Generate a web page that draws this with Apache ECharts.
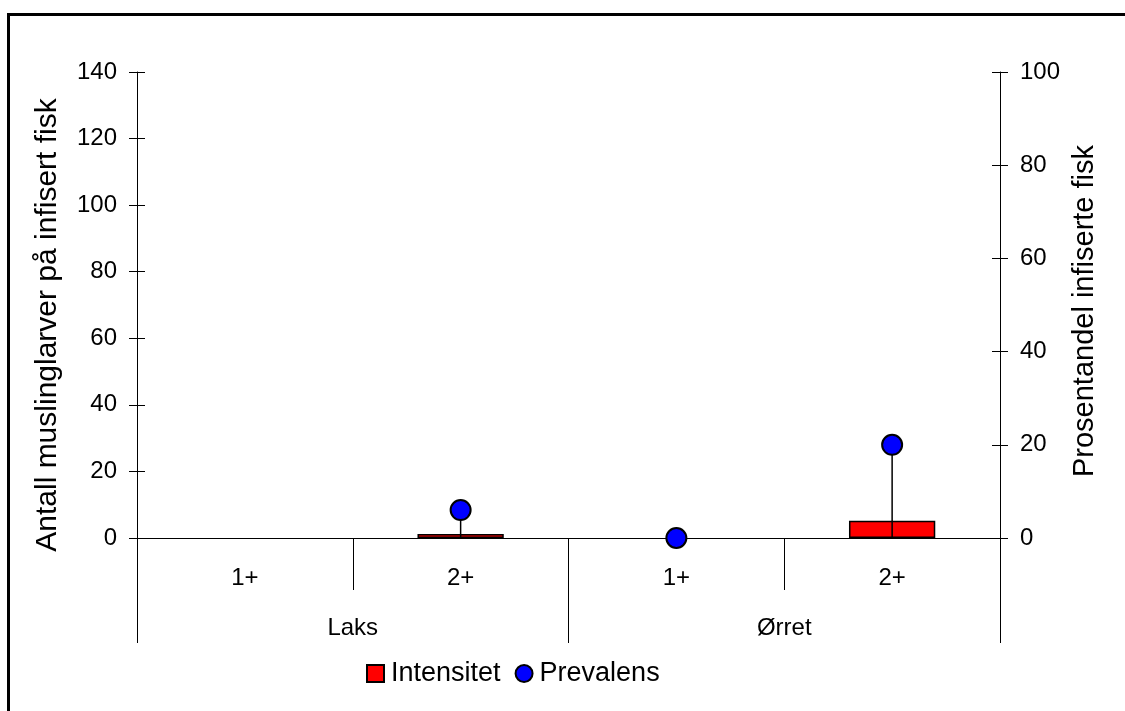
<!DOCTYPE html>
<html>
<head>
<meta charset="utf-8">
<script src="https://cdn.jsdelivr.net/npm/echarts@6/dist/echarts.min.js"></script>
<style>
html,body{margin:0;padding:0;background:#fff;}
#chart{width:1125px;height:711px;}
</style>
</head>
<body>
<div id="chart"></div>
<script>
// ---- data ----
const subCategories = ['1+', '2+', '1+', '2+'];
const groups = ['Laks', 'Ørret'];
const intensitet = [null, 1.2, null, 5.2];      // left axis
const errLow = [null, 0, null, 0];              // error bar lower end (left axis)
const errHigh = [null, 8.4, null, 28];          // error bar upper end (left axis)
const prevalens = [null, 6, 0, 20];             // right axis (%)
const leftTicks = [0, 20, 40, 60, 80, 100, 120, 140];
const rightTicks = [0, 20, 40, 60, 80, 100];
const leftTitle = 'Antall muslinglarver på infisert fisk';
const rightTitle = 'Prosentandel infiserte fisk';

const FONT = 'Liberation Sans, Arial, sans-serif';
const chart = echarts.init(document.getElementById('chart'));

const baseY = {
  type: 'value',
  splitLine: { show: false },
  axisLine: { show: true, lineStyle: { color: '#000', width: 1 } },
  axisTick: { show: true, length: 8, lineStyle: { color: '#000', width: 1 } },
  axisLabel: { color: '#000', fontFamily: FONT, fontSize: 24, margin: 20 }
};

const option = {
  backgroundColor: '#fff',
  animation: false,
  grid: { left: 137, right: 125, top: 72, bottom: 173, containLabel: false },
  legend: {
    left: 366, top: 660, padding: 0,
    itemWidth: 17, itemHeight: 17, itemGap: 14,
    textStyle: { color: '#000', fontFamily: FONT, fontSize: 27, padding: [0, 0, 0, 2] },
    data: [
      { name: 'Intensitet', icon: 'rect' },
      { name: 'Prevalens', icon: 'circle' }
    ]
  },
  xAxis: [
    {
      type: 'category', data: subCategories, position: 'bottom',
      axisLine: { show: true, lineStyle: { color: '#000', width: 1 } },
      axisTick: { show: true, length: 52, lineStyle: { color: '#000', width: 1 } },
      axisLabel: { color: '#000', fontFamily: FONT, fontSize: 24, margin: 28 },
      splitLine: { show: false }
    },
    {
      type: 'category', data: groups, position: 'bottom', offset: 0,
      axisLine: { show: false },
      axisTick: { show: true, length: 105, lineStyle: { color: '#000', width: 1 } },
      axisLabel: { color: '#000', fontFamily: FONT, fontSize: 24, margin: 78 },
      splitLine: { show: false }
    }
  ],
  yAxis: [
    Object.assign({}, baseY, { position: 'left', min: leftTicks[0], max: leftTicks[leftTicks.length - 1], interval: leftTicks[1] - leftTicks[0] }),
    Object.assign({}, baseY, { position: 'right', min: rightTicks[0], max: rightTicks[rightTicks.length - 1], interval: rightTicks[1] - rightTicks[0] }),
    Object.assign({}, baseY, { position: 'left', min: leftTicks[0], max: leftTicks[leftTicks.length - 1], interval: leftTicks[1] - leftTicks[0],
      axisLine: { show: false }, axisLabel: { show: false },
      axisTick: { show: true, inside: true, length: 8, lineStyle: { color: '#000', width: 1 } } }),
    Object.assign({}, baseY, { position: 'right', min: rightTicks[0], max: rightTicks[rightTicks.length - 1], interval: rightTicks[1] - rightTicks[0],
      axisLine: { show: false }, axisLabel: { show: false },
      axisTick: { show: true, inside: true, length: 8, lineStyle: { color: '#000', width: 1 } } })
  ],
  series: [
    {
      name: 'Intensitet', type: 'bar', xAxisIndex: 0, yAxisIndex: 0,
      data: intensitet, barWidth: '40%',
      itemStyle: { color: '#ff0000', borderColor: '#000', borderWidth: 1.5 },
      z: 2
    },
    {
      name: 'err', type: 'custom', xAxisIndex: 0, yAxisIndex: 0,
      data: subCategories.map((c, i) => [i, errLow[i], errHigh[i]]),
      renderItem: function (params, api) {
        const lo = api.value(1), hi = api.value(2);
        if (lo == null || hi == null || isNaN(lo) || isNaN(hi)) return;
        const p1 = api.coord([api.value(0), lo]);
        const p2 = api.coord([api.value(0), hi]);
        return {
          type: 'line',
          shape: { x1: p1[0], y1: p1[1], x2: p2[0], y2: p2[1] },
          style: { stroke: '#000', lineWidth: 1.5 }
        };
      },
      z: 3, silent: true
    },
    {
      name: 'Prevalens', type: 'scatter', xAxisIndex: 0, yAxisIndex: 1,
      data: prevalens, symbol: 'circle', symbolSize: 20,
      itemStyle: { color: '#0000ff', borderColor: '#000', borderWidth: 2, opacity: 1 },
      z: 4
    }
  ],
  graphic: [
    {
      type: 'rect', left: 6, top: 12, z: -1,
      shape: { width: 1200, height: 800 },
      style: { fill: 'none', stroke: '#000', lineWidth: 3 }
    },
    {
      type: 'text', x: 48, y: 325, rotation: Math.PI / 2,
      style: { text: leftTitle, fill: '#000', font: '30px ' + FONT, textAlign: 'center', textVerticalAlign: 'middle' }
    },
    {
      type: 'text', x: 1085, y: 311, rotation: Math.PI / 2,
      style: { text: rightTitle, fill: '#000', font: '29px ' + FONT, textAlign: 'center', textVerticalAlign: 'middle' }
    }
  ]
};
chart.setOption(option);
</script>
</body>
</html>
